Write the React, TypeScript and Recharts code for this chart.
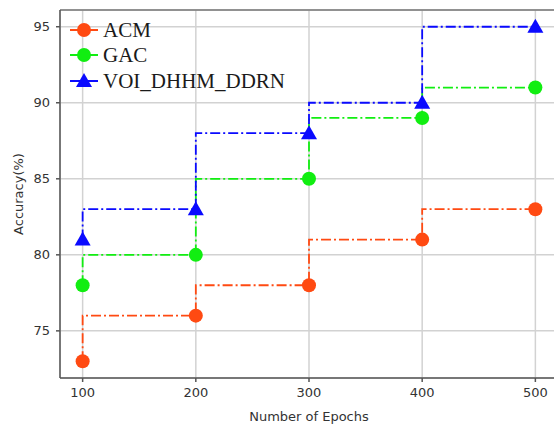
import { LineChart, Line, XAxis, YAxis, CartesianGrid, ReferenceLine, Label } from 'recharts'

const epochs = [100, 200, 300, 400, 500]
const acm = [73, 76, 78, 81, 83]
const gac = [78, 80, 85, 89, 91]
const voi = [81, 83, 88, 90, 95]
const xTicks = [100, 200, 300, 400, 500]
const yTicks = [75, 80, 85, 90, 95]

const series = [
  { key: 'acm', name: 'ACM', color: '#ff4a12', shape: 'circle' },
  { key: 'gac', name: 'GAC', color: '#11ee11', shape: 'circle' },
  { key: 'voi', name: 'VOI_DHHM_DDRN', color: '#0a0aff', shape: 'triangle' },
]

const data = epochs.map((e, i) => ({ epoch: e, acm: acm[i], gac: gac[i], voi: voi[i] }))

const DASH = '10 3 2 3'
const FONT = "'DejaVu Sans', sans-serif"

const makeDot = (color: string, shape: string) => (props: any) => {
  const { cx, cy, index } = props
  if (cx == null || cy == null) return <g key={index} />
  if (shape === 'triangle') {
    return (
      <polygon
        key={index}
        points={`${cx},${cy - 8} ${cx - 8},${cy + 6} ${cx + 8},${cy + 6}`}
        fill={color}
      />
    )
  }
  return <circle key={index} cx={cx} cy={cy} r={7} fill={color} />
}

const LegendBox = () => {
  // row centres, a bit apart so the serif text boxes don't touch
  const rows = [30, 55, 81]
  return (
    <div style={{ position: 'absolute', left: 0, top: 0, pointerEvents: 'none' }}>
      {series.map((s, i) => (
        <div
          key={s.key}
          style={{ position: 'absolute', left: 68, top: rows[i] - 10, display: 'flex', alignItems: 'center', height: 20, whiteSpace: 'nowrap' }}
        >
          <svg width={32} height={20}>
            <line x1={2} y1={10} x2={30} y2={10} stroke={s.color} strokeWidth={1.8} strokeDasharray={DASH} />
            {s.shape === 'triangle'
              ? <polygon points="16,2 8,16 24,16" fill={s.color} />
              : <circle cx={16} cy={10} r={7} fill={s.color} />}
          </svg>
          <span style={{ fontFamily: "'Liberation Serif', serif", fontSize: 21, lineHeight: 0.9, color: '#1a1a1a', marginLeft: 3 }}>{s.name}</span>
        </div>
      ))}
    </div>
  )
}

export default function App() {
  return (
    <div style={{ position: 'absolute', left: 0, top: 0, width: 554, height: 426, overflow: 'hidden', background: '#fff' }}>
      <LineChart width={572} height={426} data={data} margin={{ top: 10, right: 14, left: 0, bottom: 0 }}>
        <CartesianGrid stroke="#d2d2d2" strokeWidth={1.5} />
        <XAxis
          dataKey="epoch"
          type="number"
          domain={[80, 520]}
          ticks={xTicks}
          height={48}
          tickSize={4}
          tickMargin={6}
          stroke="#555"
          strokeWidth={1.5}
          tick={{ fontSize: 13, fill: '#333', fontFamily: FONT }}
        >
          <Label value="Number of Epochs" position="insideBottom" offset={5} style={{ fontSize: 13, fill: '#333', fontFamily: FONT }} />
        </XAxis>
        <YAxis
          type="number"
          domain={[71.9, 96.1]}
          ticks={yTicks}
          width={60}
          tickSize={4}
          tickMargin={6}
          stroke="#555"
          strokeWidth={1.5}
          allowDataOverflow
          tick={{ fontSize: 13, fill: '#333', fontFamily: FONT }}
        >
          <Label
            content={() => (
              <text x={19} y={194} transform="rotate(-90 19 194)" textAnchor="middle" dominantBaseline="middle" style={{ fontSize: 13, fill: '#333', fontFamily: FONT }}>
                Accuracy(%)
              </text>
            )}
          />
        </YAxis>
        <ReferenceLine y={96.1} stroke="#777" strokeWidth={1.5} />
        {series.map(s => (
          <Line
            key={s.key}
            dataKey={s.key}
            name={s.name}
            type="stepBefore"
            stroke={s.color}
            strokeWidth={1.8}
            strokeDasharray={DASH}
            dot={makeDot(s.color, s.shape)}
            activeDot={false}
            isAnimationActive={false}
          />
        ))}
      </LineChart>
      <LegendBox />
    </div>
  )
}
